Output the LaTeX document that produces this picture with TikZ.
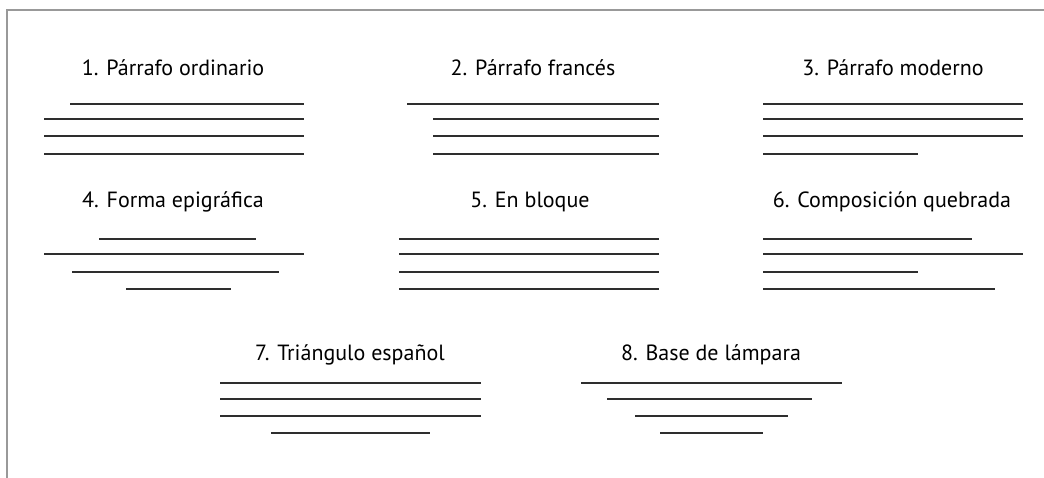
\documentclass[tikz,border=0pt]{standalone}
\usepackage{fontspec}
\setmainfont{PT Sans}
\begin{document}
\begin{tikzpicture}[x=1pt,y=-1pt,
  title/.style={anchor=base,inner sep=0pt,font=\fontsize{22}{24}\selectfont,text=black},
  rule/.style={draw=black!82,line width=2pt},
  frame/.style={draw=black!40,line width=1.8pt}]
\useasboundingbox (0,0) rectangle (1044,478);
\fill[white] (0,0) rectangle (1044,478);
\draw[frame] (7,478) -- (7,10) -- (1044,10);
% titles
\node[title] (t1) at (173,76) {1. Párrafo ordinario};
\node[title] (t2) at (533,76) {2. Párrafo francés};
\node[title] (t3) at (893,76) {3. Párrafo moderno};
\node[title] (t4) at (173,208) {4. Forma epigráfica};
\node[title] (t5) at (530,208) {5. En bloque};
\node[title] (t6) at (892,208) {6. Composición quebrada};
\node[title] (t7) at (350,360) {7. Triángulo español};
\node[title] (t8) at (711,360) {8. Base de lámpara};
% 1
\draw[rule] (70,104) -- (304,104);
\draw[rule] (44,119) -- (304,119);
\draw[rule] (44,136) -- (304,136);
\draw[rule] (44,154) -- (304,154);
% 2
\draw[rule] (407,104) -- (659,104);
\draw[rule] (433,119) -- (659,119);
\draw[rule] (433,136) -- (659,136);
\draw[rule] (433,154) -- (659,154);
% 3
\draw[rule] (763,104) -- (1023,104);
\draw[rule] (763,119) -- (1023,119);
\draw[rule] (763,136) -- (1023,136);
\draw[rule] (763,154) -- (918,154);
% 4
\draw[rule] (99,239) -- (256,239);
\draw[rule] (44,254) -- (304,254);
\draw[rule] (72,272) -- (279,272);
\draw[rule] (126,289) -- (231,289);
% 5
\draw[rule] (399,239) -- (659,239);
\draw[rule] (399,254) -- (659,254);
\draw[rule] (399,272) -- (659,272);
\draw[rule] (399,289) -- (659,289);
% 6
\draw[rule] (763,239) -- (972,239);
\draw[rule] (763,254) -- (1023,254);
\draw[rule] (763,272) -- (918,272);
\draw[rule] (763,289) -- (995,289);
% 7
\draw[rule] (220,383) -- (481,383);
\draw[rule] (220,399) -- (481,399);
\draw[rule] (220,416) -- (481,416);
\draw[rule] (271,433) -- (430,433);
% 8
\draw[rule] (581,383) -- (842,383);
\draw[rule] (607,399) -- (812,399);
\draw[rule] (635,416) -- (788,416);
\draw[rule] (660,433) -- (763,433);
\end{tikzpicture}
\end{document}
